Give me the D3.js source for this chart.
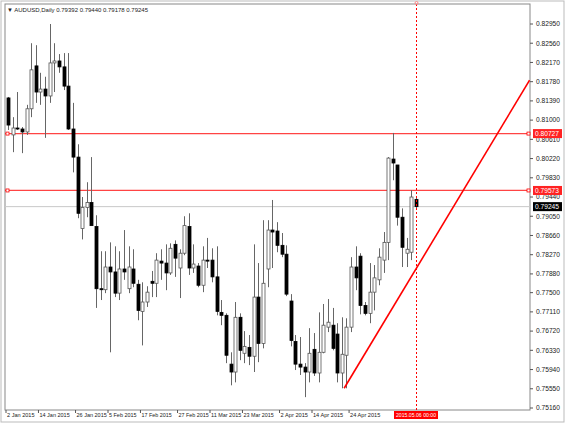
<!DOCTYPE html>
<html><head><meta charset="utf-8">
<script src="https://d3js.org/d3.v7.min.js"></script>
<style>body{margin:0;background:#fff}svg{display:block;font-family:"Liberation Sans",Arial,sans-serif}</style>
</head><body><svg id="c" width="565" height="424"></svg>
<script>
const opens  = [.8145,.8070,.8084,.8082,.8076,.8123,.8210,.8157,.8163,.8149,.8216,.8220,.8208,.8169,.8082,.8025,.7880,.7923,.7933,.7884,.7758,.7756,.7802,.7792,.7749,.7798,.7758,.7798,.7767,.7712,.7731,.7773,.7769,.7814,.7810,.7790,.7848,.7800,.7830,.7884,.7800,.7804,.7765,.7816,.7816,.7782,.7710,.7704,.7605,.7589,.7700,.7627,.7639,.7621,.7741,.7647,.7798,.7877,.7875,.7846,.7828,.7733,.7651,.7605,.7599,.7589,.7635,.7587,.7629,.7680,.7684,.7666,.7587,.7623,.7680,.7802,.7824,.7724,.7708,.7751,.7776,.7816,.7852,.8021,.8009,.7903,.7830,.7832,.79392];
const closes = [.8090,.8084,.8083,.8076,.8123,.8202,.8157,.8163,.8149,.8216,.8220,.8208,.8169,.8082,.8025,.7911,.7923,.7933,.7886,.7758,.7756,.7802,.7792,.7749,.7798,.7792,.7802,.7769,.7714,.7731,.7751,.7769,.7816,.7810,.7790,.7840,.7820,.7830,.7886,.7800,.7808,.7765,.7816,.7815,.7782,.7712,.7704,.7623,.7589,.7700,.7633,.7641,.7621,.7741,.7647,.7769,.7877,.7873,.7846,.7828,.7747,.7653,.7605,.7599,.7589,.7627,.7587,.7629,.7684,.7690,.7637,.7587,.7625,.7680,.7802,.7780,.7724,.7708,.7751,.7780,.7822,.7852,.8023,.8013,.7903,.7842,.7838,.7944,.79245];
const highs  = [.8147,.8106,.8157,.8086,.8131,.8256,.8252,.8196,.8188,.8295,.8256,.8234,.8236,.8236,.8135,.8051,.7944,.7974,.8025,.7907,.7834,.7834,.7852,.7844,.7834,.7877,.7844,.7838,.7776,.7771,.7763,.7794,.7830,.7838,.7848,.7850,.7856,.7838,.7905,.7911,.7848,.7810,.7844,.7861,.7840,.7844,.7735,.7708,.7629,.7731,.7708,.7672,.7664,.7848,.7810,.7897,.7897,.7938,.7893,.7871,.7846,.7747,.7664,.7660,.7607,.7678,.7668,.7710,.7727,.7737,.7719,.7688,.7700,.7698,.7822,.7844,.7830,.7731,.7810,.7806,.7840,.7873,.8025,.8074,.8009,.7921,.7861,.7958,.79440];
const lows   = [.8080,.8035,.8080,.8033,.8070,.8106,.8135,.8131,.8064,.8135,.8157,.8196,.8161,.8080,.7994,.7901,.7858,.7903,.7886,.7719,.7735,.7749,.7629,.7741,.7735,.7776,.7749,.7761,.7694,.7643,.7721,.7741,.7741,.7776,.7755,.7786,.7782,.7739,.7826,.7786,.7790,.7761,.7751,.7800,.7771,.7704,.7684,.7607,.7562,.7568,.7613,.7607,.7603,.7589,.7609,.7637,.7761,.7800,.7832,.7822,.7743,.7641,.7593,.7583,.7538,.7568,.7581,.7568,.7627,.7670,.7633,.7568,.7556,.7556,.7670,.7755,.7706,.7704,.7688,.7714,.7765,.7790,.7816,.7978,.7886,.7802,.7802,.7816,.79178];
const yTicks = [0.82950,0.82560,0.82170,0.81780,0.81390,0.81000,0.80610,0.80220,0.79830,0.79440,0.79050,0.78660,0.78270,0.77880,0.77500,0.77110,0.76720,0.76330,0.75940,0.75550,0.75160];
const xTickIdx = [0,7,15,22,29,37,44,51,59,66,74];
const xTickLabels = ["2 Jan 2015","14 Jan 2015","26 Jan 2015","5 Feb 2015","17 Feb 2015","27 Feb 2015","11 Mar 2015","23 Mar 2015","2 Apr 2015","14 Apr 2015","24 Apr 2015"];
const hLines = [0.80727, 0.79573];
const lastPrice = 0.79245;
const trend = [[72.5,0.7556],[112.5,0.8181]];
const cursorIdx = 88, cursorLabel = "2015.05.06 00:00";
const title = "AUDUSD,Daily  0.79392 0.79440 0.79178 0.79245";

const svg = d3.select("#c");
const L=5,R=530,T=4,B=410;
const x = d3.scaleLinear().domain([0,88]).range([8,416]);
const y = d3.scaleLinear().domain([0.75160,0.82950]).range([408,24]);
const fmt = d3.format(".5f");
svg.append("clipPath").attr("id","pc").append("rect").attr("x",L).attr("y",T).attr("width",R-L).attr("height",B-T);

svg.append("rect").attr("x",L).attr("y",T).attr("width",R-L).attr("height",B-T).attr("fill","#fff").attr("stroke","#888");
svg.append("rect").attr("x",1).attr("y",1).attr("width",563).attr("height",421).attr("fill","none").attr("stroke","#bbb");

svg.append("line").attr("x1",L).attr("x2",R).attr("y1",y(lastPrice)).attr("y2",y(lastPrice)).attr("stroke","#c8c8c8");
hLines.forEach(v=>{
  svg.append("line").attr("x1",L).attr("x2",R).attr("y1",y(v)).attr("y2",y(v)).attr("stroke","#f44").attr("stroke-width",1.2);
  svg.append("rect").attr("x",6).attr("y",y(v)-1.5).attr("width",3).attr("height",3).attr("fill","#fff").attr("stroke","#f00").attr("stroke-width",0.8);
});

const idx = d3.range(opens.length);
const g = svg.append("g").attr("clip-path","url(#pc)");
g.selectAll(".w").data(idx).join("line")
  .attr("x1",i=>Math.round(x(i))+0.5).attr("x2",i=>Math.round(x(i))+0.5)
  .attr("y1",i=>y(highs[i])).attr("y2",i=>y(lows[i])).attr("stroke","#666");
g.selectAll(".b").data(idx).join("rect")
  .attr("x",i=>Math.round(x(i))-1).attr("width",3)
  .attr("y",i=>y(Math.max(opens[i],closes[i])))
  .attr("height",i=>Math.max(1,Math.abs(y(opens[i])-y(closes[i]))))
  .attr("fill",i=>closes[i]>=opens[i]?"#fff":"#000")
  .attr("stroke",i=>closes[i]>=opens[i]?"#555":"#000").attr("stroke-width",0.8);

g.append("line").attr("x1",x(trend[0][0])).attr("y1",y(trend[0][1])).attr("x2",x(trend[1][0])).attr("y2",y(trend[1][1]))
  .attr("stroke","#f00").attr("stroke-width",1.6);
svg.append("line").attr("x1",x(cursorIdx)+0.5).attr("x2",x(cursorIdx)+0.5).attr("y1",T).attr("y2",B).attr("stroke","#f00").attr("stroke-dasharray","2,2");
svg.append("circle").attr("cx",x(cursorIdx)+0.5).attr("cy",3).attr("r",1.5).attr("fill","none").attr("stroke","#f88");

const ya = svg.append("g");
yTicks.forEach(v=>{
  ya.append("line").attr("x1",R).attr("x2",R+3).attr("y1",y(v)).attr("y2",y(v)).attr("stroke","#555");
  ya.append("text").attr("x",R+6).attr("y",y(v)+2.3).attr("font-size",6.5).attr("textLength",24).attr("lengthAdjust","spacingAndGlyphs").attr("fill","#222").text(fmt(v));
});
function tag(v,bg){
  ya.append("rect").attr("x",R+3).attr("y",y(v)-4.5).attr("width",29).attr("height",9).attr("fill",bg);
  ya.append("text").attr("x",R+5).attr("y",y(v)+2.3).attr("font-size",6.5).attr("textLength",24).attr("lengthAdjust","spacingAndGlyphs").attr("fill","#fff").text(fmt(v));
}
hLines.forEach(v=>{tag(v,"#f22");
  ya.append("rect").attr("x",R-3).attr("y",y(v)-1.5).attr("width",3).attr("height",3).attr("fill","#fff").attr("stroke","#f00").attr("stroke-width",0.8);});
tag(lastPrice,"#000");

xTickIdx.forEach((t,k)=>{
  const px = x(t)-2;
  svg.append("line").attr("x1",px).attr("x2",px).attr("y1",B).attr("y2",B+3).attr("stroke","#555");
  svg.append("text").attr("x",px+1).attr("y",B+7).attr("font-size",6).attr("textLength",xTickLabels[k].length*2.75).attr("lengthAdjust","spacingAndGlyphs").attr("fill","#222").text(xTickLabels[k]);
});
svg.append("rect").attr("x",x(cursorIdx)-22).attr("y",B+1).attr("width",44).attr("height",8).attr("fill","#f00");
svg.append("text").attr("x",x(cursorIdx)-20).attr("y",B+7.3).attr("font-size",6).attr("textLength",40).attr("lengthAdjust","spacingAndGlyphs").attr("fill","#fff").text(cursorLabel);

svg.append("text").attr("x",7).attr("y",12).attr("font-size",6).attr("fill","#222").text("▼ "+title);
</script></body></html>
